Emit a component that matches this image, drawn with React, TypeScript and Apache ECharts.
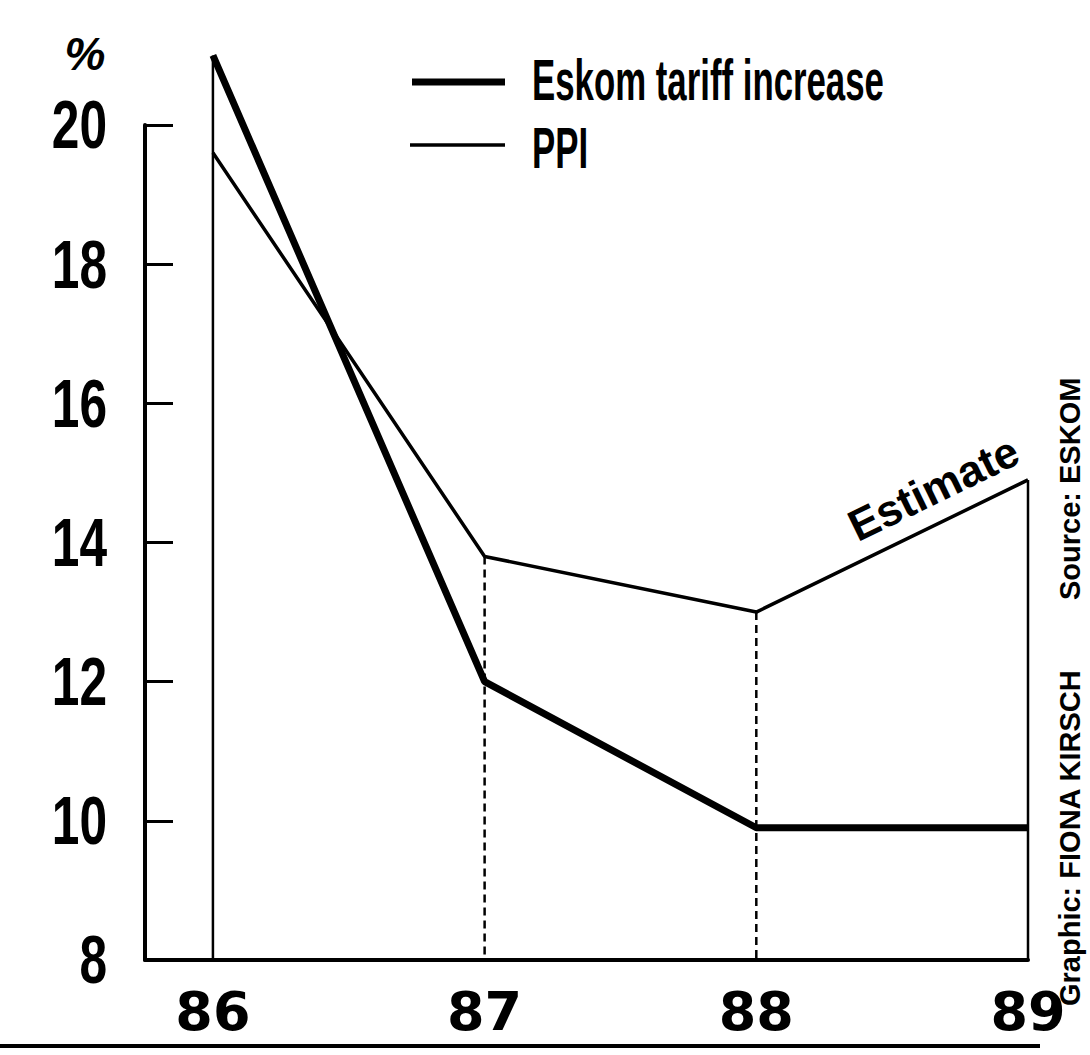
import React, { useEffect, useRef } from "react";
import * as echarts from "echarts";

const years = [86, 87, 88, 89];
const eskomTariff = [21.0, 12.0, 9.9, 9.9];
const ppi = [19.6, 13.8, 13.0, 14.9];
const dropDashed = [false, true, true, false];
const yTicks = [8, 10, 12, 14, 16, 18, 20];
const xTickLabels = ["86", "87", "88", "89"];
const legendEskom = "Eskom tariff increase";
const legendPpi = "PPI";
const estimateLabel = "Estimate";
const creditGraphic = "Graphic: FIONA KIRSCH";
const creditSource = "Source: ESKOM";
const yUnit = "%";

export default function App() {
  const ref = useRef<HTMLDivElement>(null);
  useEffect(() => {
    document.body.style.margin = "0";
    const chart = echarts.init(ref.current!, null, { renderer: "svg" });
    const sans = '"Liberation Sans", Arial, sans-serif';
    const drops = years.map((y, i) => [y, Math.max(eskomTariff[i], ppi[i]), dropDashed[i] ? 1 : 0]);
    chart.setOption({
      animation: false,
      backgroundColor: "#fff",
      grid: { left: 145, right: 62, top: 125, bottom: 95 },
      xAxis: {
        type: "value",
        min: 85.75,
        max: 89,
        interval: 0.25,
        axisLine: { show: true, lineStyle: { color: "#000", width: 4 } },
        axisTick: { show: false },
        splitLine: { show: false },
        axisLabel: {
          margin: 24,
          color: "#000",
          fontFamily: '"DejaVu Sans", sans-serif',
          fontWeight: "bold",
          fontSize: 54,
          showMinLabel: true,
          showMaxLabel: true,
          formatter: (v: number) => {
            const i = years.indexOf(v);
            return i >= 0 ? xTickLabels[i] : "";
          },
        },
      },
      yAxis: {
        type: "value",
        min: 8,
        max: 20,
        interval: 2,
        axisLine: { show: true, lineStyle: { color: "#000", width: 4 } },
        axisTick: { show: true, inside: true, length: 28, lineStyle: { color: "#000", width: 3 } },
        splitLine: { show: false },
        axisLabel: { show: false },
      },
      series: [
        {
          type: "custom",
          clip: false,
          z: 1,
          data: drops,
          renderItem: (params: any, api: any) => {
            const x = api.value(0);
            const top = api.value(1);
            const dashed = api.value(2) === 1;
            const p1 = api.coord([x, top]);
            const p2 = api.coord([x, 8]);
            return {
              type: "line",
              shape: { x1: p1[0], y1: p1[1], x2: p2[0], y2: p2[1] },
              style: { stroke: "#000", lineWidth: 2.5, lineDash: dashed ? [8, 5] : null },
            };
          },
        },
        {
          type: "line",
          name: legendPpi,
          clip: false,
          z: 3,
          symbol: "none",
          data: years.map((y, i) => [y, ppi[i]]),
          lineStyle: { color: "#000", width: 3.5 },
        },
        {
          type: "line",
          name: legendEskom,
          clip: false,
          z: 4,
          symbol: "none",
          data: years.map((y, i) => [y, eskomTariff[i]]),
          lineStyle: { color: "#000", width: 7 },
        },
      ],
    });

    const toPx = (v: number[]) => chart.convertToPixel({ gridIndex: 0 }, v) as number[];
    const axisX = toPx([85.75, 8])[0];

    const yLabelGraphics = yTicks.map((t) => {
      const p = toPx([85.75, t]);
      return {
        type: "text",
        x: axisX - 38,
        y: p[1],
        scaleX: 0.73,
        style: {
          text: String(t),
          fontFamily: sans,
          fontWeight: "bold",
          fontSize: 68,
          fill: "#000",
          textAlign: "right",
          textVerticalAlign: "middle",
        },
      };
    });

    const a = toPx([years[2], ppi[2]]);
    const b = toPx([years[3], ppi[3]]);
    const dx = b[0] - a[0];
    const dy = b[1] - a[1];
    const len = Math.hypot(dx, dy);
    const ux = dx / len;
    const uy = dy / len;
    const nx = uy;
    const ny = -ux;
    const t = 1.01;
    const off = 12;
    const ex = a[0] + dx * t + nx * off;
    const ey = a[1] + dy * t + ny * off;
    const ang = Math.atan2(-dy, dx);

    chart.setOption({
      graphic: [
        ...yLabelGraphics,
        {
          type: "text",
          x: 85,
          y: 54,
          style: { text: yUnit, fontFamily: sans, fontStyle: "italic", fontWeight: "bold", fontSize: 46, fill: "#000", textAlign: "center", textVerticalAlign: "middle" },
        },
        {
          type: "text",
          x: ex,
          y: ey,
          rotation: ang,
          style: { text: estimateLabel, fontFamily: sans, fontWeight: "bold", fontSize: 44, fill: "#000", textAlign: "right", textVerticalAlign: "bottom" },
        },
        {
          type: "line",
          shape: { x1: 412, y1: 82, x2: 505, y2: 82 },
          style: { stroke: "#000", lineWidth: 7 },
        },
        {
          type: "line",
          shape: { x1: 410, y1: 145, x2: 505, y2: 145 },
          style: { stroke: "#000", lineWidth: 3.5 },
        },
        {
          type: "text",
          x: 532,
          y: 80,
          scaleX: 0.6,
          style: { text: legendEskom, fontFamily: sans, fontWeight: "bold", fontSize: 58, fill: "#000", textAlign: "left", textVerticalAlign: "middle" },
        },
        {
          type: "text",
          x: 532,
          y: 148,
          scaleX: 0.6,
          style: { text: legendPpi, fontFamily: sans, fontWeight: "bold", fontSize: 58, fill: "#000", textAlign: "left", textVerticalAlign: "middle" },
        },
        {
          type: "text",
          x: 1070,
          y: 1006,
          rotation: Math.PI / 2,
          style: { text: creditGraphic, fontFamily: sans, fontWeight: "bold", fontSize: 29, fill: "#000", textAlign: "left", textVerticalAlign: "middle" },
        },
        {
          type: "text",
          x: 1070,
          y: 600,
          rotation: Math.PI / 2,
          style: { text: creditSource, fontFamily: sans, fontWeight: "bold", fontSize: 29, fill: "#000", textAlign: "left", textVerticalAlign: "middle" },
        },
        {
          type: "line",
          shape: { x1: 0, y1: 1046, x2: 1040, y2: 1046 },
          style: { stroke: "#000", lineWidth: 4 },
        },
      ],
    });
    return () => chart.dispose();
  }, []);
  return <div ref={ref} style={{ width: 1090, height: 1055 }} />;
}
